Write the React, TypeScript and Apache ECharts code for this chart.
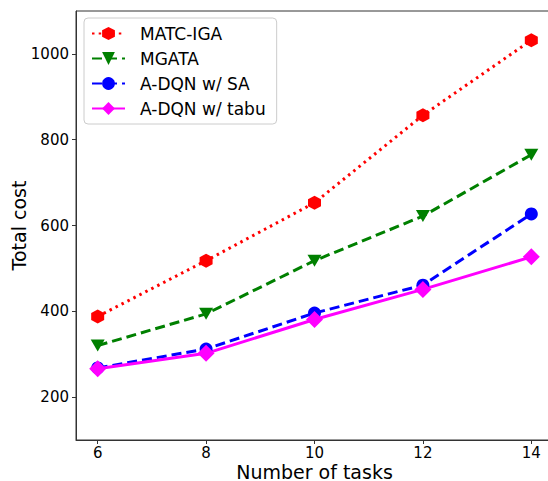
import React, { useEffect, useRef } from "react";
import * as echarts from "echarts";

const tasks = [6, 8, 10, 12, 14];
const matcIga = [388, 518, 653, 857, 1032];
const mgata = [320, 394, 518, 622, 765];
const adqnSA = [268, 312, 396, 461, 627];
const adqnTabu = [266, 302, 381, 451, 527];
const xTicks = [6, 8, 10, 12, 14];
const yTicks = [200, 400, 600, 800, 1000];

const FONT = "DejaVu Sans";
const HEX = "path://M0,-1 L0.866,-0.5 L0.866,0.5 L0,1 L-0.866,0.5 L-0.866,-0.5 Z";

const pairs = (ys: number[]) => tasks.map((x, i) => [x, ys[i]]);

export default function App() {
  const ref = useRef<HTMLDivElement>(null);
  useEffect(() => {
    document.body.style.margin = "0";
    const chart = echarts.init(ref.current!, null, { renderer: "svg" });
    chart.setOption({
      animation: false,
      backgroundColor: "#ffffff",
      grid: {
        left: 76,
        top: 11,
        width: 477,
        height: 429,
        outerBoundsMode: "none",
        containLabel: false,
        show: true,
        borderColor: "#333",
        borderWidth: 1,
        backgroundColor: "#fff",
      },
      legend: {
        left: 84,
        top: 18,
        orient: "vertical",
        itemWidth: 33,
        itemHeight: 16,
        itemGap: 8,
        padding: [7, 11, 7, 7],
        backgroundColor: "#fff",
        borderColor: "#cccccc",
        borderWidth: 1,
        borderRadius: 4,
        textStyle: { fontFamily: FONT, fontSize: 17, color: "#000", padding: [0, 0, 0, 10] },
        data: ["MATC-IGA", "MGATA", "A-DQN w/ SA", "A-DQN w/ tabu"],
      },
      xAxis: {
        type: "value",
        min: 5.6,
        max: 14.4,
        name: "Number of tasks",
        nameLocation: "middle",
        nameGap: 22,
        nameMoveOverlap: false,
        nameTextStyle: { fontFamily: FONT, fontSize: 19, color: "#000", verticalAlign: "top", lineHeight: 19 },
        axisLine: { show: true, lineStyle: { color: "#333", width: 1 } },
        axisTick: { show: true, length: 4, inside: false, customValues: xTicks, lineStyle: { color: "#333" } },
        axisLabel: { customValues: xTicks, fontFamily: FONT, fontSize: 15, color: "#000", margin: 5, formatter: (v: number) => String(v) },
        splitLine: { show: false },
      },
      yAxis: {
        type: "value",
        min: 100,
        max: 1100,
        name: "Total cost",
        nameLocation: "middle",
        nameGap: 48,
        nameMoveOverlap: false,
        nameTextStyle: { fontFamily: FONT, fontSize: 19, color: "#000", lineHeight: 19 },
        axisLine: { show: true, lineStyle: { color: "#333", width: 1 } },
        axisTick: { show: true, length: 4, inside: false, customValues: yTicks, lineStyle: { color: "#333" } },
        axisLabel: { customValues: yTicks, fontFamily: FONT, fontSize: 15, color: "#000", margin: 7, formatter: (v: number) => String(v) },
        splitLine: { show: false },
      },
      series: [
        {
          name: "MATC-IGA",
          type: "line",
          data: pairs(matcIga),
          symbol: HEX,
          symbolSize: [13, 14],
          itemStyle: { color: "#ff0000" },
          lineStyle: { color: "#ff0000", width: 3, type: [2.5, 4.2] },
        },
        {
          name: "MGATA",
          type: "line",
          data: pairs(mgata),
          symbol: "triangle",
          symbolRotate: 180,
          symbolSize: [14, 12],
          itemStyle: { color: "#008000" },
          lineStyle: { color: "#008000", width: 3, type: [10, 5] },
        },
        {
          name: "A-DQN w/ SA",
          type: "line",
          data: pairs(adqnSA),
          symbol: "circle",
          symbolSize: 13,
          itemStyle: { color: "#0000ff" },
          lineStyle: { color: "#0000ff", width: 3, type: [10, 5] },
        },
        {
          name: "A-DQN w/ tabu",
          type: "line",
          data: pairs(adqnTabu),
          symbol: "diamond",
          symbolSize: 17,
          itemStyle: { color: "#ff00ff" },
          lineStyle: { color: "#ff00ff", width: 3, type: "solid" },
        },
      ],
    });
    return () => chart.dispose();
  }, []);
  return <div ref={ref} style={{ width: 548, height: 481 }} />;
}
